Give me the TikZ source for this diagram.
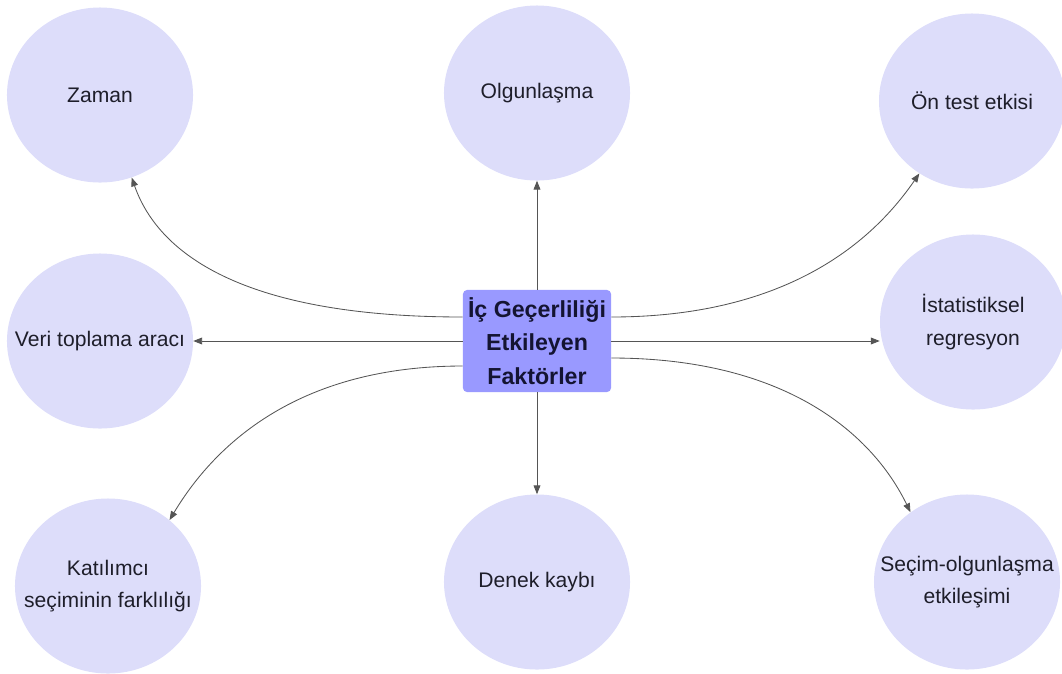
\documentclass[tikz,border=0pt]{standalone}
\usepackage{fontspec}
\setmainfont{Liberation Sans}
\definecolor{factorFill}{RGB}{221, 221, 250}
\definecolor{coreFill}{RGB}{153, 153, 255}
\definecolor{linkGray}{RGB}{85, 85, 85}
\definecolor{textDark}{RGB}{30, 30, 42}
\definecolor{coreText}{RGB}{20, 20, 50}
\usetikzlibrary{shapes.geometric, arrows.meta, positioning, calc}

\begin{document}
\begin{tikzpicture}[x=0.025cm, y=-0.025cm,
    factor/.style={ellipse, fill=factorFill, minimum width=4.65cm, minimum height=4.375cm, inner sep=0pt},
    factorText/.style={align=center, text=textDark, font=\fontsize{15}{22.8}\selectfont},
    link/.style={draw=linkGray, line width=0.6pt, -{Triangle[length=2.2mm, width=1.7mm]}}]
    \useasboundingbox (0,0) rectangle (1062,673);

    % Top row
    \node[factor, label={[factorText]center:Zaman}] (zaman) at (100,95) {};
    \node[factor, label={[factorText]center:Olgunlaşma}] (olgun) at (537,93) {};
    \node[factor, label={[factorText]center:Ön test etkisi}] (ontest) at (972,101) {};

    % Middle row
    \node[factor, label={[factorText]center:Veri toplama aracı}] (veri) at (100,341) {};
    \node[factor, label={[factorText]center:{İstatistiksel\\regresyon}}] (istat) at (973,322) {};

    % Bottom row
    \node[factor, label={[factorText]center:{Katılımcı\\seçiminin farklılığı}}] (katil) at (108,586) {};
    \node[factor, label={[factorText]center:Denek kaybı}] (denek) at (537,582) {};
    \node[factor, label={[factorText]center:{Seçim-olgunlaşma\\etkileşimi}}] (secim) at (967,582) {};

    % Central box
    \node[fill=coreFill, rounded corners=0.1cm, minimum width=3.7cm, minimum height=2.55cm,
          inner sep=1pt, align=center, text=coreText,
          font=\bfseries\fontsize{16.5}{24}\selectfont] (core) at (537,341)
          {İç Geçerliliği\\Etkileyen\\Faktörler};

    % Straight links
    \draw[link] (core.north) -- (olgun.south);
    \draw[link] (core.south) -- (denek.north);
    \draw[link] (core.west) -- (veri.east);
    \draw[link] (core.east) -- (core.east -| istat.west);

    % Curved links
    \draw[link] ([yshift=0.6cm]core.west) .. controls +(-213,0) and +(28,80) .. (zaman.-69);
    \draw[link] ([yshift=0.6cm]core.east) .. controls +(190,0) and +(-38,55) .. (ontest.-126);
    \draw[link] ([yshift=-0.625cm]core.west) .. controls +(-160,0) and +(48,-80) .. (katil.47);
    \draw[link] ([yshift=-0.425cm]core.east) .. controls +(170,0) and +(-40,-82) .. (secim.129);
\end{tikzpicture}
\end{document}
